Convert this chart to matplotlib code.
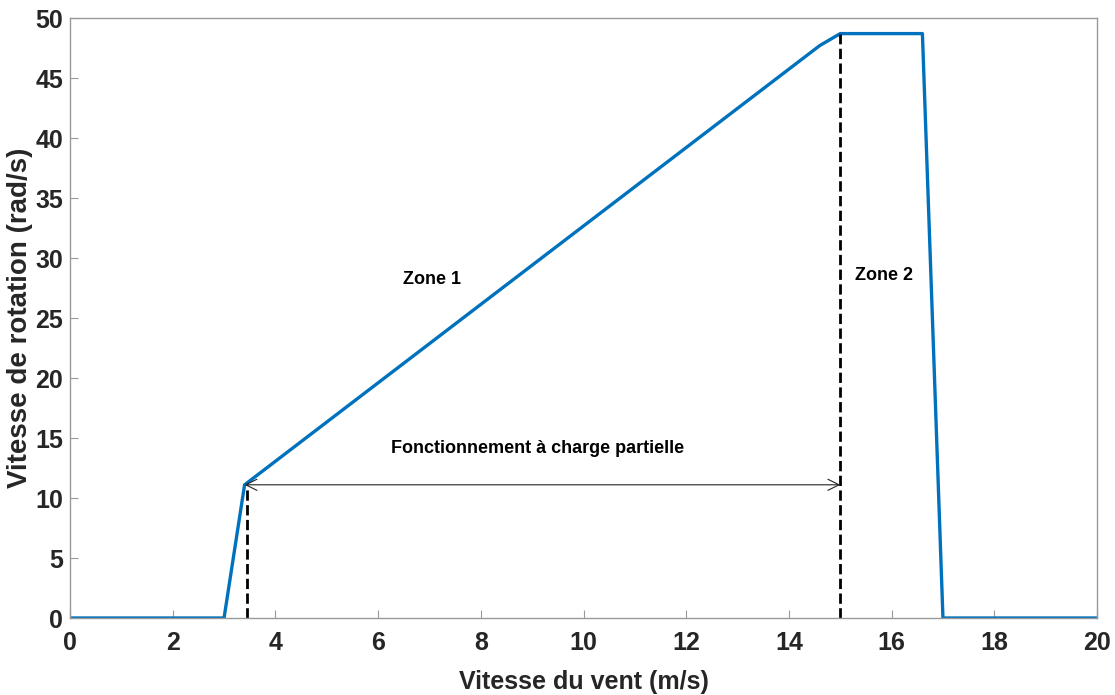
import numpy as np
import matplotlib.pyplot as plt

# vitesse du vent (m/s) et vitesse de rotation (rad/s)
vent = [0, 3.0, 3.4, 14.6, 15.0, 16.6, 17.0, 20]
rotation = [0, 0, 11.1, 47.7, 48.7, 48.7, 0, 0]

# limites de la zone 1
v_min = 3.45
v_max = 15.0
w_min = 11.1
w_max = 48.7

plt.rcParams['font.family'] = ['Liberation Sans', 'DejaVu Sans']
txt_col = '#262626'

fig = plt.figure(figsize=(11.15, 6.95), dpi=100)
ax = fig.add_axes([70 / 1115, 1 - 618 / 695, 1027 / 1115, 600 / 695])

ax.plot(vent, rotation, color='#0072BD', linewidth=2.4)

# lignes verticales en pointillés
ax.plot([v_min, v_min], [0, w_min], 'k--', linewidth=2)
ax.plot([v_max, v_max], [0, w_max], 'k--', linewidth=2)

# flèche double
ax.annotate('', xy=(v_min - 0.05, w_min), xytext=(v_max, w_min),
            arrowprops=dict(arrowstyle='<->', color='#222222', lw=0.8,
                            mutation_scale=20, shrinkA=0, shrinkB=0))

ax.text(7.05, 28.2, 'Zone 1', fontsize=13, fontweight='bold', ha='center', va='center', color='black')
ax.text(15.85, 28.5, 'Zone 2', fontsize=13, fontweight='bold', ha='center', va='center', color='black')
ax.text(9.1, 14.1, 'Fonctionnement à charge partielle', fontsize=13,
        fontweight='bold', ha='center', va='center', color='black')

ax.set_xlim(0, 20)
ax.set_ylim(0, 50)
ax.set_xticks(np.arange(0, 21, 2))
ax.set_yticks(np.arange(0, 51, 5))
ax.tick_params(axis='both', direction='in', length=6, color='#999999',
               labelsize=18, labelcolor=txt_col)
ax.tick_params(axis='x', pad=9)
ax.tick_params(axis='y', pad=5)
for lbl in ax.get_xticklabels() + ax.get_yticklabels():
    lbl.set_fontweight('bold')
for s in ax.spines.values():
    s.set_color('#999999')
    s.set_linewidth(1)

ax.set_xlabel('Vitesse du vent (m/s)', fontsize=18, fontweight='bold', labelpad=11, color=txt_col)
ax.set_ylabel('Vitesse de rotation (rad/s)', fontsize=20, fontweight='bold', color=txt_col)
ax.yaxis.set_label_coords(-0.036, 0.5)

fig.savefig('out.png', dpi=100)
